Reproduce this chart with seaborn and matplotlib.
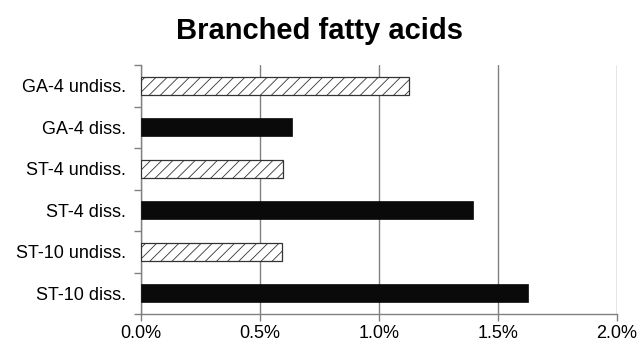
import matplotlib
matplotlib.use("Agg")
import matplotlib.pyplot as plt
import seaborn as sns
import numpy as np
import pandas as pd
from matplotlib.ticker import PercentFormatter, FixedLocator

categories = ["GA-4 undiss.", "GA-4 diss.", "ST-4 undiss.", "ST-4 diss.", "ST-10 undiss.", "ST-10 diss."]
values = [1.126, 0.634, 0.597, 1.395, 0.592, 1.626]
kinds = ["undiss", "diss", "undiss", "diss", "undiss", "diss"]
xticks = [0.0, 0.5, 1.0, 1.5, 2.0]

sns.set_style("white")
plt.rcParams['font.family'] = ['Liberation Sans', 'DejaVu Sans']
plt.rcParams['hatch.linewidth'] = 0.6
plt.rcParams['text.color'] = 'black'
plt.rcParams['xtick.labelcolor'] = 'black'
plt.rcParams['ytick.labelcolor'] = 'black'

df = pd.DataFrame({"cat": categories, "val": values, "kind": kinds})

fig = plt.figure(figsize=(6.4, 3.44), dpi=100)
ax = fig.add_axes([141/640, 1-314/344, (617-141)/640, (314-65)/344])

sns.barplot(data=df, x="val", y="cat", color="black", orient="h", width=0.43, ax=ax, zorder=3)

for patch, k in zip(ax.patches, kinds):
    if k == "undiss":
        patch.set_facecolor("white")
        patch.set_edgecolor("#333333")
        patch.set_hatch("///")
        patch.set_linewidth(0.9)
    else:
        patch.set_facecolor("#0a0a0a")
        patch.set_edgecolor("#0a0a0a")
        patch.set_linewidth(0.5)

ax.set_xlim(0, 2.0)
ax.set_ylim(5.5, -0.5)
ax.set_xticks(xticks)
ax.xaxis.set_major_formatter(PercentFormatter(xmax=100, decimals=1))
ax.grid(axis="x", color="#808080", linewidth=1.0, zorder=0)
ax.set_axisbelow(True)
ax.set_xlabel("")
ax.set_ylabel("")

for s in ["top", "right"]:
    ax.spines[s].set_visible(False)
for s in ["left", "bottom"]:
    ax.spines[s].set_color("#808080")
    ax.spines[s].set_linewidth(1.0)

ax.tick_params(axis="x", direction="out", length=5, color="#808080", width=1.0, labelsize=13, pad=3, bottom=True, labelcolor="black")
ax.tick_params(axis="y", which="major", length=0, labelsize=13, pad=11, labelcolor="black")
ax.yaxis.set_minor_locator(FixedLocator(np.arange(-0.5, 6.0, 1.0)))
ax.tick_params(axis="y", which="minor", direction="out", length=5, color="#808080", width=1.0, left=True)

fig.suptitle("Branched fatty acids", fontsize=21, fontweight="bold", x=0.5, y=0.95, color="black")

fig.savefig("out.png", dpi=100)
